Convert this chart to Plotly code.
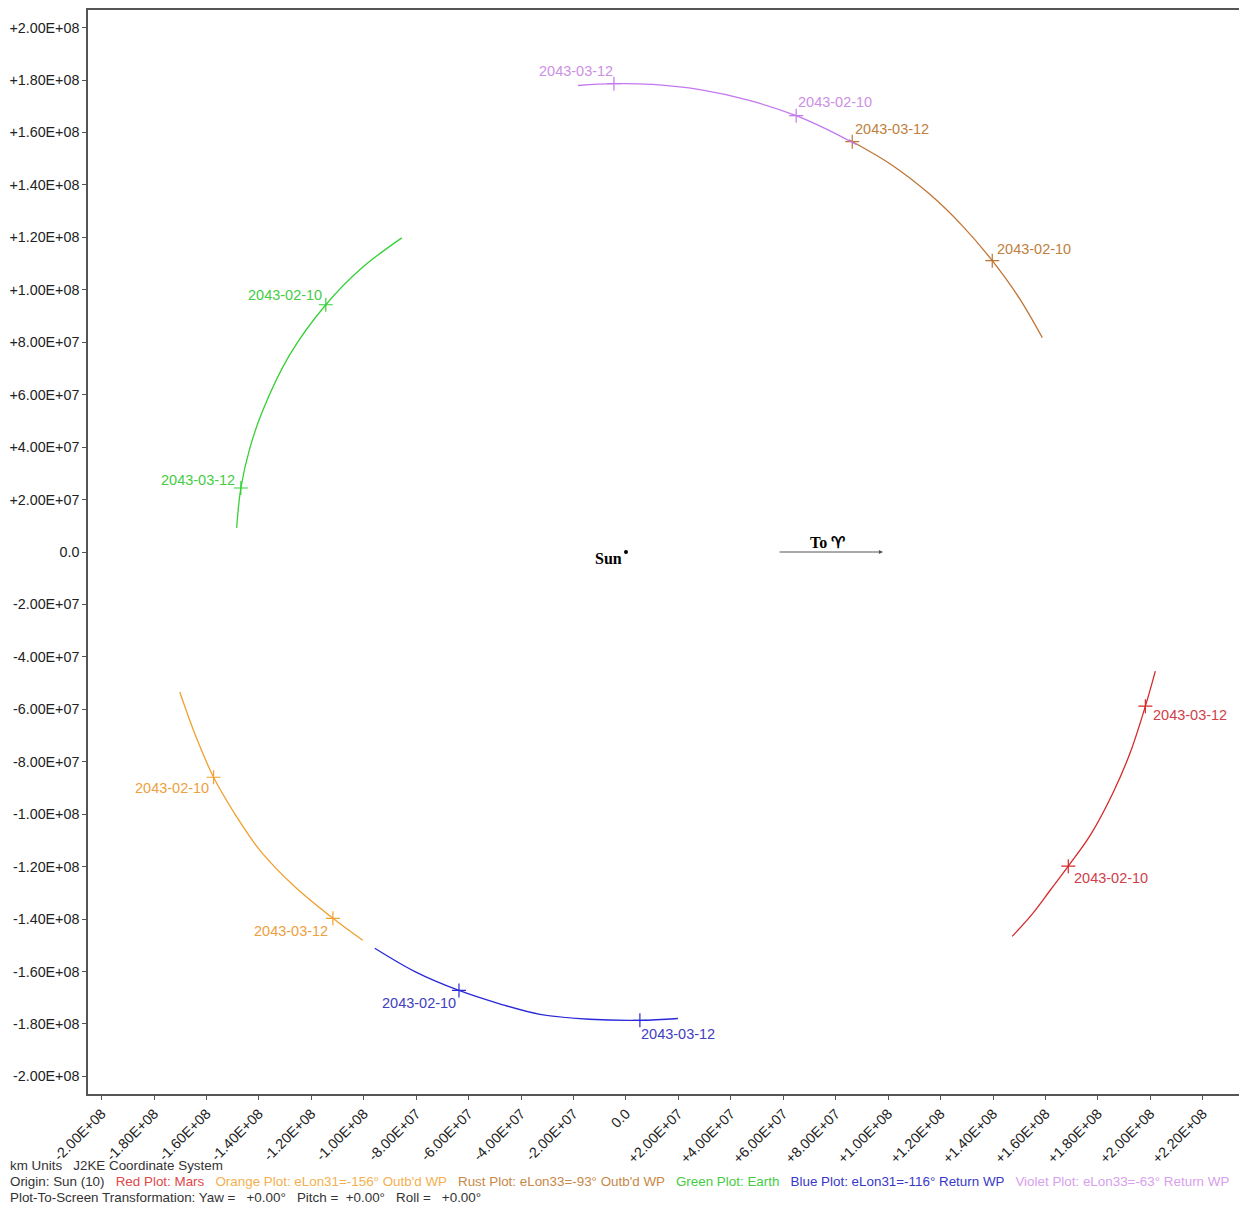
import plotly.graph_objects as go

# ---------------- data (km) ----------------
mars_x = [147.3e6, 155.0e6, 161.8e6, 168.7e6, 177.1e6, 185.9e6, 192.4e6, 198.1e6, 201.9e6]
mars_y = [-146.6e6, -138.0e6, -129.0e6, -119.8e6, -108.0e6, -91.5e6, -76.3e6, -58.8e6, -45.4e6]
orange_x = [-170.2e6, -164.0e6, -157.3e6, -148.8e6, -139.7e6, -126.5e6, -111.8e6, -100.4e6]
orange_y = [-53.4e6, -70.5e6, -85.9e6, -100.5e6, -113.7e6, -127.5e6, -139.7e6, -148.1e6]
rust_x = [85.0e6, 101.5e6, 116.0e6, 128.5e6, 139.7e6, 150.0e6, 158.8e6]
rust_y = [157.2e6, 147.5e6, 136.3e6, 124.2e6, 111.1e6, 96.8e6, 81.7e6]
green_x = [-148.5e6, -146.9e6, -143.5e6, -138.7e6, -128.4e6, -114.5e6, -100.8e6, -85.5e6]
green_y = [9.2e6, 24.4e6, 39.5e6, 53.6e6, 75.0e6, 94.3e6, 108.3e6, 119.8e6]
blue_x = [-95.8e6, -80.5e6, -63.7e6, -48.5e6, -32.8e6, -14.0e6, 5.3e6, 19.8e6]
blue_y = [-151.1e6, -160.0e6, -167.2e6, -172.2e6, -176.3e6, -178.2e6, -178.6e6, -177.9e6]
violet_x = [-18.3e6, -4.6e6, 10.0e6, 28.2e6, 47.0e6, 64.9e6, 78.0e6, 88.0e6]
violet_y = [177.9e6, 178.6e6, 178.3e6, 176.3e6, 172.2e6, 166.4e6, 160.5e6, 155.3e6]

# date markers: (x, y)
mars_marks = {"2043-02-10": (168.7e6, -119.8e6), "2043-03-12": (198.1e6, -58.8e6)}
orange_marks = {"2043-02-10": (-157.3e6, -85.9e6), "2043-03-12": (-111.8e6, -139.7e6)}
rust_marks = {"2043-02-10": (139.7e6, 111.1e6), "2043-03-12": (86.3e6, 156.5e6)}
green_marks = {"2043-02-10": (-114.5e6, 94.3e6), "2043-03-12": (-146.9e6, 24.4e6)}
blue_marks = {"2043-02-10": (-63.7e6, -167.2e6), "2043-03-12": (5.3e6, -178.6e6)}
violet_marks = {"2043-02-10": (64.9e6, 166.4e6), "2043-03-12": (-4.6e6, 178.6e6)}

x_tick_vals = [v * 1e7 for v in range(-20, 24, 2)]
x_tick_text = ["-2.00E+08", "-1.80E+08", "-1.60E+08", "-1.40E+08", "-1.20E+08", "-1.00E+08",
               "-8.00E+07", "-6.00E+07", "-4.00E+07", "-2.00E+07", "0.0", "+2.00E+07",
               "+4.00E+07", "+6.00E+07", "+8.00E+07", "+1.00E+08", "+1.20E+08", "+1.40E+08",
               "+1.60E+08", "+1.80E+08", "+2.00E+08", "+2.20E+08"]
y_tick_vals = [v * 1e7 for v in range(-20, 22, 2)]
y_tick_text = ["-2.00E+08", "-1.80E+08", "-1.60E+08", "-1.40E+08", "-1.20E+08", "-1.00E+08",
               "-8.00E+07", "-6.00E+07", "-4.00E+07", "-2.00E+07", "0.0", "+2.00E+07",
               "+4.00E+07", "+6.00E+07", "+8.00E+07", "+1.00E+08", "+1.20E+08", "+1.40E+08",
               "+1.60E+08", "+1.80E+08", "+2.00E+08"]

# ---------------- styles ----------------
C_RED, T_RED = "#d42a2a", "#d0404a"
C_ORG, T_ORG = "#f0a030", "#eea040"
C_RST, T_RST = "#c07434", "#c08040"
C_GRN, T_GRN = "#36d036", "#44cc44"
C_BLU, T_BLU = "#2828d8", "#4040c0"
C_VIO, T_VIO = "#c478f0", "#cc90e4"

FONT = "Liberation Sans, Arial, sans-serif"

fig = go.Figure()

series = [
    (mars_x, mars_y, mars_marks, C_RED, T_RED,
     {"2043-02-10": (43, -12), "2043-03-12": (45, -9)}),
    (orange_x, orange_y, orange_marks, C_ORG, T_ORG,
     {"2043-02-10": (-42, -11), "2043-03-12": (-42, -13)}),
    (rust_x, rust_y, rust_marks, C_RST, T_RST,
     {"2043-02-10": (42, 12), "2043-03-12": (40, 13)}),
    (green_x, green_y, green_marks, C_GRN, T_GRN,
     {"2043-02-10": (-41, 10), "2043-03-12": (-43, 8)}),
    (blue_x, blue_y, blue_marks, C_BLU, T_BLU,
     {"2043-02-10": (-40, -13), "2043-03-12": (38, -14)}),
    (violet_x, violet_y, violet_marks, C_VIO, T_VIO,
     {"2043-02-10": (39, 14), "2043-03-12": (-38, 13)}),
]

for xs, ys, marks, lc, tc, offs in series:
    fig.add_trace(go.Scatter(x=xs, y=ys, mode="lines", line=dict(color=lc, width=1.3, shape="spline"),
                             hoverinfo="skip", showlegend=False))
    mx = [v[0] for v in marks.values()]
    my = [v[1] for v in marks.values()]
    fig.add_trace(go.Scatter(x=mx, y=my, mode="markers",
                             marker=dict(symbol="cross-thin", size=10, line=dict(color=lc, width=1.2)),
                             hoverinfo="skip", showlegend=False))
    for lab, (px, py) in marks.items():
        dx, dy = offs[lab]
        fig.add_annotation(x=px, y=py, text=lab, showarrow=False, xshift=dx, yshift=dy,
                           font=dict(family=FONT, size=14.5, color=tc))

# Sun
fig.add_trace(go.Scatter(x=[0], y=[0], mode="markers", marker=dict(color="black", size=4),
                         hoverinfo="skip", showlegend=False))
fig.add_annotation(x=0, y=0, text="<b>Sun</b>", showarrow=False, xshift=-17, yshift=-6,
                   font=dict(family="Liberation Serif, Times New Roman, serif", size=16, color="black"))

# To Aries arrow
fig.add_annotation(x=98e6, y=0, ax=58e6, ay=0, axref="x", ayref="y", xref="x", yref="y",
                   showarrow=True, arrowhead=2, arrowsize=0.8, arrowwidth=1, arrowcolor="#555555", text="")
fig.add_annotation(x=77e6, y=0, text="<b>To \u2648\ufe0e</b>", showarrow=False, yshift=10,
                   font=dict(family="Liberation Serif, Times New Roman, serif", size=16, color="black"))

# footer text
footer = [
    "km Units   J2KE Coordinate System",
    ("Origin: Sun (10)   <span style='color:#e04848'>Red Plot: Mars</span>   "
     "<span style='color:#f4b050'>Orange Plot: eLon31=-156° Outb'd WP</span>   "
     "<span style='color:#c88848'>Rust Plot: eLon33=-93° Outb'd WP</span>   "
     "<span style='color:#44cc44'>Green Plot: Earth</span>   "
     "<span style='color:#3838c8'>Blue Plot: eLon31=-116° Return WP</span>   "
     "<span style='color:#d8a0ec'>Violet Plot: eLon33=-63° Return WP</span>"),
    "Plot-To-Screen Transformation: Yaw =   +0.00°   Pitch =  +0.00°   Roll =   +0.00°",
]
for i, line in enumerate(footer):
    fig.add_annotation(xref="paper", yref="paper", x=-0.0691, y=0, yshift=-71 - 16 * i,
                       xanchor="left", yanchor="middle", text=line, showarrow=False,
                       font=dict(family=FONT, size=13.4, color="#333333"))

axis_common = dict(showgrid=False, zeroline=False, showline=True, linecolor="#555555", linewidth=1.5,
                   mirror="ticks", ticks="outside", ticklen=4, tickcolor="#555555", tickwidth=1,
                   automargin=False,
                   tickfont=dict(family=FONT, size=14.3, color="#222222"))

fig.update_layout(
    width=1239, height=1197,
    margin=dict(l=80, r=2, t=2, b=111),
    paper_bgcolor="white", plot_bgcolor="white",
    xaxis=dict(range=[-205.2e6, 236.1e6], tickvals=x_tick_vals, ticktext=x_tick_text,
               tickangle=-45, **axis_common),
    yaxis=dict(range=[-206.7e6, 206.7e6], tickvals=y_tick_vals, ticktext=y_tick_text, **axis_common),
)

fig.write_html("out.html")
